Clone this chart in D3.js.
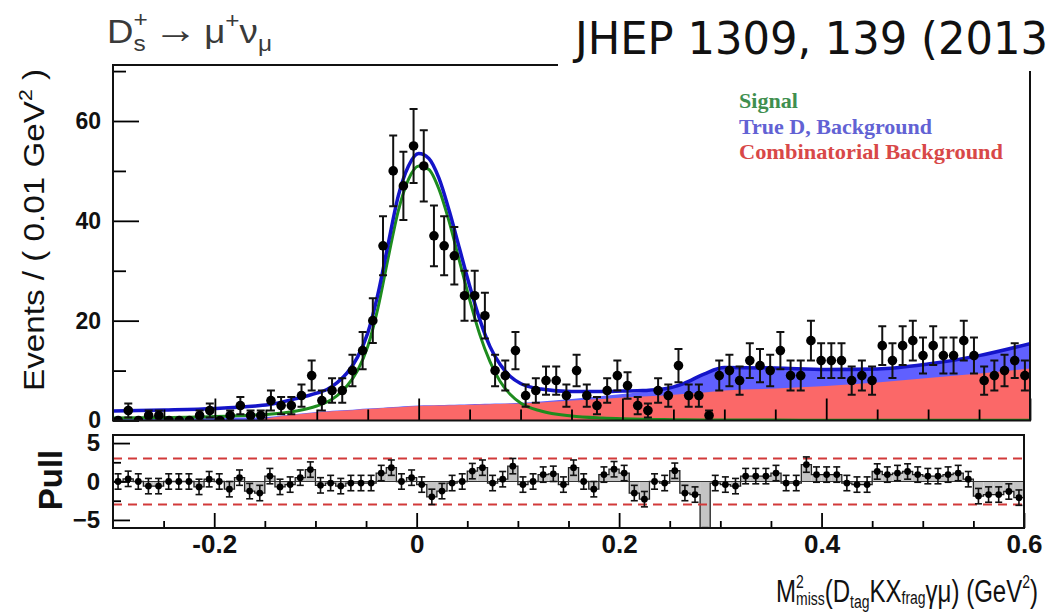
<!DOCTYPE html>
<html>
<head>
<meta charset="utf-8">
<script src="https://cdn.jsdelivr.net/npm/d3@7/dist/d3.min.js"></script>
<style>
  body { margin: 0; background: #fff; }
  svg { display: block; }
</style>
</head>
<body>
<svg id="main-svg" width="1050" height="614"></svg>
<script>
// binned data, 90 bins of 0.01 GeV^2 from -0.3 to 0.6
const binLow = -0.3;
const binWidth = 0.01;
const counts = [
  0, 2, 0, 1, 1, 0, 0, 0, 1, 2,
  0, 1, 3, 1, 1, 4, 3, 3, 5, 9,
  4, 6, 6, 10, 14, 20, 35, 50, 47, 55,
  51, 37, 35, 33, 25, 25, 21, 10, 9, 14,
  5, 6, 8, 8, 5, 10, 5, 3, 6, 9,
  7, 3, 2, 6, 5, 11, 5, 5, 1, 9,
  10, 8, 12, 11, 10, 14, 9, 9, 16, 12,
  12, 12, 8, 9, 8, 15, 12, 15, 16, 13,
  15, 13, 13, 16, 13, 8, 9, 10, 12, 9
];
const pulls = [
  0, 0.35, 0, -0.6, -0.6, 0, 0, 0, -0.7, 0.3,
  0, -1.0, 0.5, -1.25, -1.5, 0.7, -0.7, -0.4, 0.5, 1.55,
  -0.5, -0.2, -0.6, -0.2, -0.2, -0.2, 1.1, 1.8, 0, 0.5,
  -0.4, -2.0, -1.25, -0.2, 0, 1.35, 1.8, -0.2, 0.3, 2.0,
  -0.4, 0, 0.9, 1.0, -0.4, 1.8, 0, -1.0, 0.9, 1.6,
  1.1, -1.5, -2.3, 0, -0.2, 1.4, -1.5, -1.7, -7, -0.2,
  -0.4, -0.6, 0.7, 0.7, 0.7, 1.1, -0.2, -0.2, 2.2, 0.9,
  0.9, 0.9, -0.2, -0.4, -0.4, 1.3, 0.9, 1.1, 1.3, 0.9,
  0.7, 0.7, 0.9, 1.1, 0.3, -1.9, -1.7, -1.7, -1.3, -2.1
];

// fit curves at these x values
const curveX = [-0.3, -0.25, -0.2, -0.16, -0.15, -0.12, -0.1, -0.09, -0.08, -0.07,
  -0.06, -0.05, -0.04, -0.03, -0.02, -0.01, 0, 0.01, 0.02, 0.03,
  0.04, 0.05, 0.06, 0.07, 0.08, 0.09, 0.1, 0.12, 0.15, 0.18,
  0.2, 0.22, 0.24, 0.26, 0.28, 0.3, 0.35, 0.4, 0.45, 0.5, 0.55, 0.6];
const totalFit = [1.9, 2.1, 2.4, 2.9, 3.1, 4.4, 5.5, 6.2, 7.6, 9.6,
  12.7, 17.5, 25.3, 35.3, 45, 51, 53.5, 52.5, 48.5, 42,
  34.5, 27, 20.2, 14.8, 11.2, 8.8, 7.4, 6.3, 5.8, 5.8,
  5.9, 6.0, 6.3, 7.4, 9.3, 10.6, 10.5, 10.2, 10.3, 11.3, 13.0, 15.4];
const signalFit = [0.5, 0.6, 0.8, 1.1, 1.2, 1.9, 2.9, 3.7, 5.0, 7.0,
  10.0, 14.8, 22.5, 32.5, 42, 48.3, 51, 50.3, 46.3, 39.8,
  32, 24.2, 17.2, 11.8, 7.8, 5.2, 3.5, 1.9, 0.9, 0.5,
  0.35, 0.25, 0.2, 0.15, 0.12, 0.1, 0.08, 0.06, 0.05, 0.04, 0.03, 0.03];
const combBkg = [0, 0, 0, 0, 0.4, 1.2, 1.6, 1.75, 1.9, 2.0,
  2.15, 2.3, 2.4, 2.55, 2.65, 2.8, 2.9, 2.95, 3.0, 3.05,
  3.1, 3.15, 3.2, 3.25, 3.3, 3.35, 3.4, 3.6, 4.0, 4.3,
  4.6, 4.8, 5.0, 5.3, 5.6, 6.0, 6.4, 6.9, 7.6, 8.5, 9.4, 10.4];
const trueDBkg = [0.6, 0.6, 0.6, 0.6, 0.7, 1.3, 1.7, 1.85, 2.0, 2.1,
  2.25, 2.4, 2.5, 2.65, 2.75, 2.9, 3.0, 3.05, 3.1, 3.15,
  3.2, 3.25, 3.3, 3.35, 3.4, 3.45, 3.55, 3.8, 4.3, 4.9,
  5.3, 5.7, 6.1, 7.25, 9.2, 10.5, 10.4, 10.1, 10.2, 11.2, 12.9, 15.3];

const xTicksMajor = [-0.2, 0, 0.2, 0.4, 0.6];
const xTickLabels = ["-0.2", "0", "0.2", "0.4", "0.6"];
const xTicksMinor = [-0.25, -0.15, -0.1, -0.05, 0.05, 0.1, 0.15, 0.25, 0.3, 0.35, 0.45, 0.5, 0.55];
const yTicksMajor = [0, 20, 40, 60];
const yTicksMinor = [10, 30, 50, 70];
const pullTicksMajor = [-5, 0, 5];
const pullTicksMinor = [-2.5, 2.5];
const pullBand = [-3, 3];

const legendItems = [
  { label: "Signal", color: "#3f8f4f", len: 59 },
  { label: "True D, Background", color: "#6262d4", len: 193 },
  { label: "Combinatorial Background", color: "#d84848", len: 264 }
];

const SANS = "'Liberation Sans', Arial, Helvetica, sans-serif";

const svg = d3.select("#main-svg");

const bins = counts.map((n, i) => ({
  lo: binLow + i * binWidth,
  hi: binLow + (i + 1) * binWidth,
  c: binLow + (i + 0.5) * binWidth,
  n: n,
  pull: pulls[i]
}));
const fit = curveX.map((x, i) => ({
  x: x, total: totalFit[i], sig: signalFit[i], comb: combBkg[i], trued: trueDBkg[i]
}));

// ---------- top panel ----------
const xMain = d3.scaleLinear().domain([-0.3, 0.6]).range([113, 1030]);
const yMain = d3.scaleLinear().domain([0, 60]).range([420.5, 121]);
const topBox = { x: 113, y: 65, w: 917, h: 355.5 };

svg.append("clipPath").attr("id", "clip-top")
  .append("rect").attr("x", topBox.x).attr("y", topBox.y).attr("width", topBox.w).attr("height", topBox.h);

const plot = svg.append("g").attr("clip-path", "url(#clip-top)");

plot.append("path").datum(fit)
  .attr("fill", "#6060ff")
  .attr("d", d3.area().curve(d3.curveMonotoneX)
    .x(d => xMain(d.x)).y0(yMain(0)).y1(d => yMain(d.trued)));

plot.append("path").datum(fit)
  .attr("fill", "#fb6868")
  .attr("d", d3.area().curve(d3.curveMonotoneX)
    .x(d => xMain(d.x)).y0(yMain(0)).y1(d => yMain(d.comb)));

plot.append("path").datum(fit)
  .attr("fill", "none").attr("stroke", "#1e8c1e").attr("stroke-width", 3)
  .attr("d", d3.line().curve(d3.curveMonotoneX).x(d => xMain(d.x)).y(d => yMain(d.sig)));

plot.append("path").datum(fit)
  .attr("fill", "none").attr("stroke", "#1414c8").attr("stroke-width", 3.5)
  .attr("d", d3.line().curve(d3.curveMonotoneX).x(d => xMain(d.x)).y(d => yMain(d.total)));

// data points with sqrt(n) errors
const pts = plot.append("g");
const withErr = bins.filter(d => d.n > 0);
pts.selectAll(".err").data(withErr).join("line")
  .attr("x1", d => xMain(d.c)).attr("x2", d => xMain(d.c))
  .attr("y1", d => yMain(d.n + Math.sqrt(d.n))).attr("y2", d => yMain(d.n - Math.sqrt(d.n)))
  .attr("stroke", "#111").attr("stroke-width", 2);
pts.selectAll(".capt").data(withErr).join("line")
  .attr("x1", d => xMain(d.c) - 4).attr("x2", d => xMain(d.c) + 4)
  .attr("y1", d => yMain(d.n + Math.sqrt(d.n))).attr("y2", d => yMain(d.n + Math.sqrt(d.n)))
  .attr("stroke", "#111").attr("stroke-width", 2);
pts.selectAll(".capb").data(withErr).join("line")
  .attr("x1", d => xMain(d.c) - 4).attr("x2", d => xMain(d.c) + 4)
  .attr("y1", d => yMain(d.n - Math.sqrt(d.n))).attr("y2", d => yMain(d.n - Math.sqrt(d.n)))
  .attr("stroke", "#111").attr("stroke-width", 2);
pts.selectAll("circle").data(bins).join("circle")
  .attr("cx", d => xMain(d.c)).attr("cy", d => yMain(d.n)).attr("r", 4.8)
  .attr("fill", "#000");

// axes of the top panel (ticks point inward)
function styleAxis(g, size, weight) {
  g.select(".domain").remove();
  g.selectAll("line").attr("stroke", "#000").attr("stroke-width", 1.8);
  g.selectAll("text").attr("font-family", SANS).attr("font-size", size)
    .attr("font-weight", weight).attr("fill", "#111");
}
svg.append("g").attr("transform", `translate(${topBox.x},0)`)
  .call(d3.axisLeft(yMain).tickValues(yTicksMajor).tickSize(-26).tickPadding(12).tickFormat(d3.format("d")))
  .call(g => styleAxis(g, 23, "bold"));
svg.append("g").attr("transform", `translate(${topBox.x},0)`)
  .call(d3.axisLeft(yMain).tickValues(yTicksMinor).tickSize(-13).tickFormat(""))
  .call(g => styleAxis(g, 23, "bold"));
svg.append("g").attr("transform", `translate(0,${yMain(0)})`)
  .call(d3.axisBottom(xMain).tickValues(xTicksMajor).tickSize(-22).tickFormat(""))
  .call(g => styleAxis(g, 23, "bold"));
svg.append("g").attr("transform", `translate(0,${yMain(0)})`)
  .call(d3.axisBottom(xMain).tickValues(xTicksMinor).tickSize(-11).tickFormat(""))
  .call(g => styleAxis(g, 23, "bold"));

svg.append("rect").attr("x", topBox.x).attr("y", topBox.y).attr("width", topBox.w).attr("height", topBox.h)
  .attr("fill", "none").attr("stroke", "#111").attr("stroke-width", 2);

// legend
svg.append("g").selectAll("text").data(legendItems).join("text")
  .attr("x", 739).attr("y", (d, i) => 108 + i * 25.5)
  .attr("font-family", "'Liberation Serif', 'Times New Roman', serif")
  .attr("font-weight", "bold").attr("font-size", 21)
  .attr("textLength", d => d.len).attr("lengthAdjust", "spacingAndGlyphs")
  .attr("fill", d => d.color)
  .text(d => d.label);

// ---------- pull panel ----------
const xPull = d3.scaleLinear().domain([-0.3, 0.6]).range([113, 1024]);
const yPull = d3.scaleLinear().domain([-6.05, 6.05]).range([528, 435]);
const bot = { x: 113, y: 435, w: 911, h: 93 };

svg.append("clipPath").attr("id", "clip-pull")
  .append("rect").attr("x", bot.x).attr("y", bot.y).attr("width", bot.w).attr("height", bot.h);
const pp = svg.append("g").attr("clip-path", "url(#clip-pull)");

pp.selectAll(".bar").data(bins).join("rect")
  .attr("x", d => xPull(d.lo)).attr("width", d => xPull(d.hi) - xPull(d.lo))
  .attr("y", d => Math.min(yPull(0), yPull(d.pull)))
  .attr("height", d => Math.abs(yPull(d.pull) - yPull(0)))
  .attr("fill", "#c4c4c4");

const stepPts = bins.map(d => [d.lo, d.pull]).concat([[0.6, pulls[pulls.length - 1]]]);
pp.append("path").datum(stepPts)
  .attr("fill", "none").attr("stroke", "#222").attr("stroke-width", 1.3)
  .attr("d", d3.line().curve(d3.curveStepAfter).x(d => xPull(d[0])).y(d => yPull(d[1])));
pp.append("line")
  .attr("x1", xPull(-0.3)).attr("x2", xPull(0.6)).attr("y1", yPull(0)).attr("y2", yPull(0))
  .attr("stroke", "#333").attr("stroke-width", 1);

pp.selectAll(".band").data(pullBand).join("line")
  .attr("x1", xPull(-0.3)).attr("x2", xPull(0.6))
  .attr("y1", d => yPull(d)).attr("y2", d => yPull(d))
  .attr("stroke", "#d23a3a").attr("stroke-width", 2).attr("stroke-dasharray", "9,6");

const pg = pp.append("g");
pg.selectAll(".perr").data(bins).join("line")
  .attr("x1", d => xPull(d.c)).attr("x2", d => xPull(d.c))
  .attr("y1", d => yPull(d.pull + 1)).attr("y2", d => yPull(d.pull - 1))
  .attr("stroke", "#111").attr("stroke-width", 1.6);
pg.selectAll(".pcapt").data(bins).join("line")
  .attr("x1", d => xPull(d.c) - 3.5).attr("x2", d => xPull(d.c) + 3.5)
  .attr("y1", d => yPull(d.pull + 1)).attr("y2", d => yPull(d.pull + 1))
  .attr("stroke", "#111").attr("stroke-width", 1.6);
pg.selectAll(".pcapb").data(bins).join("line")
  .attr("x1", d => xPull(d.c) - 3.5).attr("x2", d => xPull(d.c) + 3.5)
  .attr("y1", d => yPull(d.pull - 1)).attr("y2", d => yPull(d.pull - 1))
  .attr("stroke", "#111").attr("stroke-width", 1.6);
pg.selectAll("circle").data(bins).join("circle")
  .attr("cx", d => xPull(d.c)).attr("cy", d => yPull(d.pull)).attr("r", 3.4)
  .attr("fill", "#000");

svg.append("g").attr("transform", `translate(${bot.x},0)`)
  .call(d3.axisLeft(yPull).tickValues(pullTicksMajor).tickSize(-17).tickPadding(13).tickFormat(d3.format("d")))
  .call(g => styleAxis(g, 24, "bold"));
svg.append("g").attr("transform", `translate(${bot.x},0)`)
  .call(d3.axisLeft(yPull).tickValues(pullTicksMinor).tickSize(-8).tickFormat(""))
  .call(g => styleAxis(g, 24, "bold"));
svg.append("g").attr("transform", `translate(0,${bot.y + bot.h})`)
  .call(d3.axisBottom(xPull).tickValues(xTicksMajor).tickSize(-15).tickPadding(7)
    .tickFormat((d, i) => xTickLabels[i]))
  .call(g => styleAxis(g, 26, "bold"));
svg.append("g").attr("transform", `translate(0,${bot.y + bot.h})`)
  .call(d3.axisBottom(xPull).tickValues(xTicksMinor).tickSize(-7).tickFormat(""))
  .call(g => styleAxis(g, 26, "bold"));

svg.append("rect").attr("x", bot.x).attr("y", bot.y).attr("width", bot.w).attr("height", bot.h)
  .attr("fill", "none").attr("stroke", "#111").attr("stroke-width", 2);

// ---------- titles ----------
const ytitle = svg.append("text")
  .attr("transform", "translate(44,230) rotate(-90)")
  .attr("text-anchor", "middle")
  .attr("font-family", SANS).attr("font-size", 30).attr("fill", "#111")
  .attr("textLength", 322).attr("lengthAdjust", "spacingAndGlyphs");
ytitle.append("tspan").text("Events / ( 0.01 GeV");
ytitle.append("tspan").attr("font-size", 19).attr("dy", -12).text("2");
ytitle.append("tspan").attr("dy", 12).text(" )");

svg.append("text")
  .attr("transform", "translate(62,480) rotate(-90)")
  .attr("text-anchor", "middle")
  .attr("font-family", SANS).attr("font-size", 33).attr("font-weight", "bold").attr("fill", "#111")
  .text("Pull");

const xt = svg.append("text")
  .attr("x", 776).attr("y", 602)
  .attr("font-family", SANS).attr("font-size", 31).attr("fill", "#111")
  .attr("textLength", 262).attr("lengthAdjust", "spacingAndGlyphs");
xt.append("tspan").text("M");
xt.append("tspan").attr("font-size", 18).attr("dy", -14).text("2");
xt.append("tspan").attr("font-size", 18).attr("dx", -10).attr("dy", 17).text("miss");
xt.append("tspan").attr("dy", -3).text("(D");
xt.append("tspan").attr("font-size", 18).attr("dy", 6).text("tag");
xt.append("tspan").attr("dy", -6).text("KX");
xt.append("tspan").attr("font-size", 18).attr("dy", 2).text("frag");
xt.append("tspan").attr("dy", -2).text("γμ) (GeV");
xt.append("tspan").attr("font-size", 18).attr("dy", -14).text("2");
xt.append("tspan").attr("dy", 14).text(")");

const ttl = svg.append("text")
  .attr("x", 107).attr("y", 43)
  .attr("font-family", SANS).attr("font-size", 33).attr("fill", "#3a3a3a")
  .attr("textLength", 165).attr("lengthAdjust", "spacingAndGlyphs");
ttl.append("tspan").text("D");
ttl.append("tspan").attr("font-size", 22).attr("dy", 8).text("s");
ttl.append("tspan").attr("font-size", 22).attr("dx", -11).attr("dy", -24).text("+");
ttl.append("tspan").attr("font-size", 40).attr("dx", 5).attr("dy", 16).text("→");
ttl.append("tspan").attr("dx", 6).text("μ");
ttl.append("tspan").attr("font-size", 22).attr("dy", -15).text("+");
ttl.append("tspan").attr("dy", 15).text("ν");
ttl.append("tspan").attr("font-size", 22).attr("dy", 8).text("μ");

// reference stamp over the top right corner
svg.append("rect").attr("x", 558).attr("y", 0).attr("width", 492).attr("height", 71).attr("fill", "#fff");
svg.append("text")
  .attr("x", 575).attr("y", 54)
  .attr("font-family", "'DejaVu Sans', Verdana, sans-serif").attr("font-size", 45).attr("fill", "#111")
  .attr("textLength", 473).attr("lengthAdjust", "spacingAndGlyphs")
  .text("JHEP 1309, 139 (2013");
</script>
</body>
</html>
